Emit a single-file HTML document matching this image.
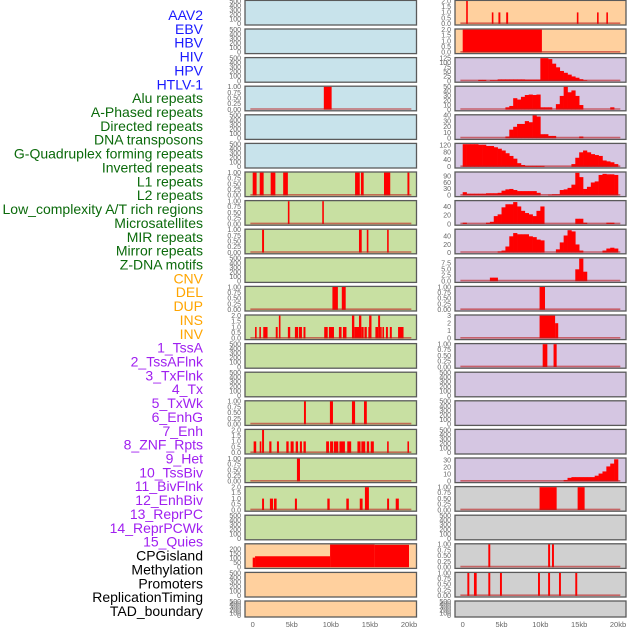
<!DOCTYPE html>
<html><head><meta charset="utf-8">
<style>
html,body{margin:0;padding:0;background:#fff;width:630px;height:630px;overflow:hidden}
svg{display:block}
</style></head>
<body>
<svg id="chart" width="630" height="630" xmlns="http://www.w3.org/2000/svg" font-family="Liberation Sans, sans-serif"></svg>
<script>
// ---- legend labels ----
const labelNames = ["AAV2","EBV","HBV","HIV","HPV","HTLV-1","Alu repeats","A-Phased repeats","Directed repeats","DNA transposons","G-Quadruplex forming repeats","Inverted repeats","L1 repeats","L2 repeats","Low_complexity A/T rich regions","Microsatellites","MIR repeats","Mirror repeats","Z-DNA motifs","CNV","DEL","DUP","INS","INV","1_TssA","2_TssAFlnk","3_TxFlnk","4_Tx","5_TxWk","6_EnhG","7_Enh","8_ZNF_Rpts","9_Het","10_TssBiv","11_BivFlnk","12_EnhBiv","13_ReprPC","14_ReprPCWk","15_Quies","CPGisland","Methylation","Promoters","ReplicationTiming","TAD_boundary"];
const labelGroups = [0,0,0,0,0,0,1,1,1,1,1,1,1,1,1,1,1,1,1,2,2,2,2,2,3,3,3,3,3,3,3,3,3,3,3,3,3,3,3,4,4,4,4,4];
const xTicks = [0,5,10,15,20];
const xTickLabels = ["0","5kb","10kb","15kb","20kb"];

// ---- left column data (bars: [startKb, endKb, height]) ----
const L4_bars = [[9.1,10.1,1]];
const L7_bars = [[0,0.5,1],[0.9,1.4,1],[2.3,2.9,1],[3.9,4.5,1],[13.1,13.7,1],[13.85,14.2,1],[16.8,17.6,1],[19.8,20.05,1]];
const L8_bars = [[4.5,4.7,1],[8.9,9.1,1]];
const L9_bars = [[1.2,1.45,1],[13.6,13.95,1],[14.6,14.8,1],[17.2,17.4,1]];
const L11_bars = [[10.2,10.9,1],[11.4,11.9,1]];
const L12_bars = [[0.3,0.5,1],[0.85,1.0,1],[1.35,1.9,1],[2.95,3.2,1],[3.35,3.55,2],[4.5,4.8,1],[5.4,5.8,1],[5.9,6.3,1],[6.5,6.75,1],[9.15,9.6,1],[9.75,10.4,1],[11.03,11.37,1],[11.55,12.0,1],[12.7,13.0,2],[13.0,13.7,1],[13.6,13.9,2],[13.9,14.2,1],[14.3,14.6,1],[14.8,14.9,1],[14.9,15.2,2],[15.7,16.05,1],[16.05,16.3,2],[16.3,16.4,1],[16.6,16.75,1],[17.05,17.3,1],[17.55,17.8,1],[18.6,19.3,1]];
const L15_bars = [[6.56,6.81,1],[9.88,10.27,1],[12.7,13.1,1],[14.24,14.6,1]];
const L16_bars = [[0.12,0.45,1],[0.9,1.05,1],[1.2,1.45,2],[2.12,2.4,1],[3.1,3.36,1],[4.3,4.6,1],[4.85,5.24,1],[5.5,5.8,1],[6.04,6.3,1],[6.5,6.8,1],[9.4,9.76,1],[9.9,10.3,1],[10.4,10.95,1],[11.1,11.8,1],[12.1,12.6,1],[13.4,13.8,1],[13.9,14.4,1],[14.6,14.9,1],[15.1,15.5,1],[17.2,17.4,1],[19.8,20.0,1]];
const L17_bars = [[5.66,6.05,1]];
const L18_bars = [[1.2,1.45,1],[2.2,2.6,1],[2.72,3.06,1],[5.4,5.66,1],[9.55,9.85,1],[11.98,12.3,1],[13.7,14.06,1],[14.36,14.87,2],[17.2,17.45,1],[18.3,18.7,1]];
const L20_bars = [[0,0.3,105],[0.3,9.9,120],[9.9,15.6,248],[15.6,20,245]];

// ---- right column data ----
const R1_bars = [[0.45,0.65,2],[3.75,3.95,1],[4.6,4.85,1],[5.6,5.85,1],[14.7,14.9,1],[17.3,17.5,1],[18.5,18.7,1]];
const R2_bars = [[0,10.2,2]];
const R3_hist = [0,0,0,0,6,6,0,4,4,9,9,9,9,9,9,9,8,8,8,8,125,125,120,95,75,55,45,35,25,18,10,4,0,0,0,0,0,0,0,0];
const R4_hist = [0,0,0,0,0,0,0,0,0,0,0,5,8,25,22,28,32,33,32,33,5,5,5,0,12,30,50,38,42,30,10,0,0,0,0,0,0,0,5,0];
const R5_hist = [0,0,0,0,0,0,0,0,0,0,0,3,15,20,25,25,30,28,40,38,7,7,4,4,0,0,0,0,0,0,3,0,0,0,0,0,0,0,0,0];
const R6_hist = [125,125,125,125,122,122,115,115,108,100,90,75,60,45,20,10,5,5,5,5,5,0,0,0,0,0,0,0,15,50,80,90,80,70,65,60,35,30,25,15];
const R7_hist = [15,8,8,8,8,8,10,10,10,12,22,28,30,25,20,20,20,20,20,12,0,0,3,5,5,25,28,35,50,105,85,30,40,60,65,95,100,98,98,95];
const R8_hist = [3,0,0,0,0,0,3,5,18,22,38,45,45,50,40,30,25,22,18,30,40,0,0,0,0,0,0,0,0,12,12,3,0,0,0,0,0,3,3,0];
const R9_hist = [0,0,0,0,0,0,0,0,0,3,5,15,40,48,45,45,45,40,38,32,30,0,0,0,8,25,42,55,52,20,5,0,0,0,0,0,5,10,12,10];
const R10_hist = [0,0,0,0,0,0,0,1.5,1.5,0,0,0,0,0,0,0,0,0,0,0,0,0,0,0,0,0,0,0,0,5,9.5,4,0,0,0,0,0,0,0,0];
const R11_bars = [[9.9,10.6,1]];
const R12_bars = [[9.9,11.9,3],[11.9,12.3,2]];
const R13_bars = [[10.3,10.9,1],[11.7,12.1,1]];
const R17_hist = [0,0,0,0,0,0,0,0,0,0,0,0,0,0,0,0,0,0,0,0,0,0,0,0,0,0,2,5,6,6,6,6,6,6,8,11,14,21,25,31];
const R18_bars = [[9.9,12.1,1],[14.8,15.7,1]];
const R20_bars = [[3.3,3.55,1],[11.0,11.25,1],[11.5,11.75,1]];
const R21_bars = [[0.6,0.85,1],[1.45,1.8,1],[3.3,3.55,1],[4.8,5.05,1],[9.7,9.95,1],[11.0,11.25,1],[12.4,12.65,1],[14.5,14.75,1]];

// ---- y tick sets ----
const tEmpty = [0,100,200,300,400,500], tEmptyL = ["0","100","200","300","400","500"];
const tBin = [0,0.25,0.5,0.75,1], tBinL = ["0.00","0.25","0.50","0.75","1.00"];
const tTwo = [0,0.5,1,1.5,2], tTwoL = ["0.0","0.5","1.0","1.5","2.0"];

const BG = {blue:"#c8e3eb", green:"#c8e0a2", orange:"#ffd09e", lav:"#d5c6e2", grey:"#d0d0d0"};
const E = {type:"empty", ymax:500, t:tEmpty, tl:tEmptyL};
function B(bars){return {type:"bars", data:bars, ymax:1, t:tBin, tl:tBinL};}
function B2(bars){return {type:"bars", data:bars, ymax:2, t:tTwo, tl:tTwoL};}

const leftCol = [
 ["blue",E],["blue",E],["blue",E],["blue",B(L4_bars)],["blue",E],["blue",E],
 ["green",B(L7_bars)],["green",B(L8_bars)],["green",B(L9_bars)],["green",E],["green",B(L11_bars)],
 ["green",B2(L12_bars)],["green",E],["green",E],["green",B(L15_bars)],["green",B2(L16_bars)],
 ["green",B(L17_bars)],["green",B2(L18_bars)],["green",E],
 ["orange",{type:"bars",data:L20_bars,ymax:250,t:[0,50,100,150,200],tl:["0","50","100","150","200"],nobase:true}],
 ["orange",E],["orange",E]
];
const rightCol = [
 ["orange",B2(R1_bars)],["orange",B2(R2_bars)],
 ["lav",{type:"hist",data:R3_hist,ymax:125,t:[0,25,50,75,100,125],tl:["0","25","50","75","100","125"]}],
 ["lav",{type:"hist",data:R4_hist,ymax:50,t:[0,10,20,30,40,50],tl:["0","10","20","30","40","50"]}],
 ["lav",{type:"hist",data:R5_hist,ymax:40,t:[0,10,20,30,40],tl:["0","10","20","30","40"]}],
 ["lav",{type:"hist",data:R6_hist,ymax:126,t:[0,40,80,120],tl:["0","40","80","120"]}],
 ["lav",{type:"hist",data:R7_hist,ymax:106,t:[0,30,60,90],tl:["0","30","60","90"]}],
 ["lav",{type:"hist",data:R8_hist,ymax:52,t:[0,20,40],tl:["0","20","40"]}],
 ["lav",{type:"hist",data:R9_hist,ymax:56,t:[0,20,40],tl:["0","20","40"]}],
 ["lav",{type:"hist",data:R10_hist,ymax:9.6,t:[0,2.5,5,7.5],tl:["0.0","2.5","5.0","7.5"]}],
 ["lav",B(R11_bars)],
 ["lav",{type:"bars",data:R12_bars,ymax:3,t:[0,1,2,3],tl:["0","1","2","3"]}],
 ["lav",B(R13_bars)],["lav",E],["lav",E],["lav",E],
 ["lav",{type:"hist",data:R17_hist,ymax:32,t:[0,10,20,30],tl:["0","10","20","30"]}],
 ["grey",B(R18_bars)],["grey",E],["grey",B(R20_bars)],["grey",B(R21_bars)],["grey",E]
];

const NS="http://www.w3.org/2000/svg";
const svg=document.getElementById("chart");
function mk(tag,attrs,parent){const e=document.createElementNS(NS,tag);for(const k in attrs)e.setAttribute(k,attrs[k]);(parent||svg).appendChild(e);return e;}

// legend labels
const gColors=["#1a1aff","#0b6a0b","#ffa500","#a020f0","#000000"];
labelNames.forEach((n,i)=>{
  const t=mk("text",{x:203,y:15+i*13.86+5,"text-anchor":"end","font-size":"14",fill:gColors[labelGroups[i]]});
  t.textContent=n;
  
  
});

function drawCol(col,px0,px1,ax0,ax1,colName){
  const xs=kb=>ax0+(kb/20)*(ax1-ax0);
  col.forEach((c,i)=>{
    const [bg,cfg]=c;
    const top=0.4+i*28.6;
    const h=(i===21)?16:24.6;
    const g=mk("g",{});
    
    
    mk("rect",{x:px0,y:top,width:px1-px0,height:h,fill:BG[bg],stroke:"#5a5a5a","stroke-width":1.3},g);
    const y0=top+h-1.2, yt=top+0.6;
    const ys=v=>y0-(v/cfg.ymax)*(y0-yt);
    cfg.t.forEach((tv,k)=>{
      const tt=mk("text",{x:px0-4,y:ys(tv)+2.3,"text-anchor":"end","font-size":"7",fill:"#666"},g);
      tt.textContent=cfg.tl[k];
      
      
    });
    if(cfg.type==="empty")return;
    if(cfg.type==="bars"){
      cfg.data.forEach(b=>{
        const r=mk("rect",{x:xs(b[0]),y:ys(b[2]),width:Math.max(1.6,xs(b[1])-xs(b[0])),height:y0-ys(b[2]),fill:"#ff0000"},g);
        
        
      });
    } else {
      cfg.data.forEach((v,k)=>{
        if(v<=0)return;
        const r=mk("rect",{x:xs(k*0.5),y:ys(v),width:xs(0.5)-xs(0)+0.3,height:y0-ys(v),fill:"#ff0000"},g);
        
        
      });
    }
    if(!cfg.nobase){
      const l=mk("line",{x1:xs(-0.3),x2:xs(20.3),y1:y0-0.6,y2:y0-0.6,stroke:"rgba(190,30,30,0.6)","stroke-width":1.6},g);
      
      
    }
  });
  xTicks.forEach((v,k)=>{
    const t=mk("text",{x:xs(v),y:627,"text-anchor":"middle","font-size":"7.5",fill:"#666"});
    t.textContent=xTickLabels[k];
    
    
  });
}
drawCol(leftCol,245,416.5,252.7,409,"left");
drawCol(rightCol,455,626,462.7,618,"right");
</script>
</body></html>
